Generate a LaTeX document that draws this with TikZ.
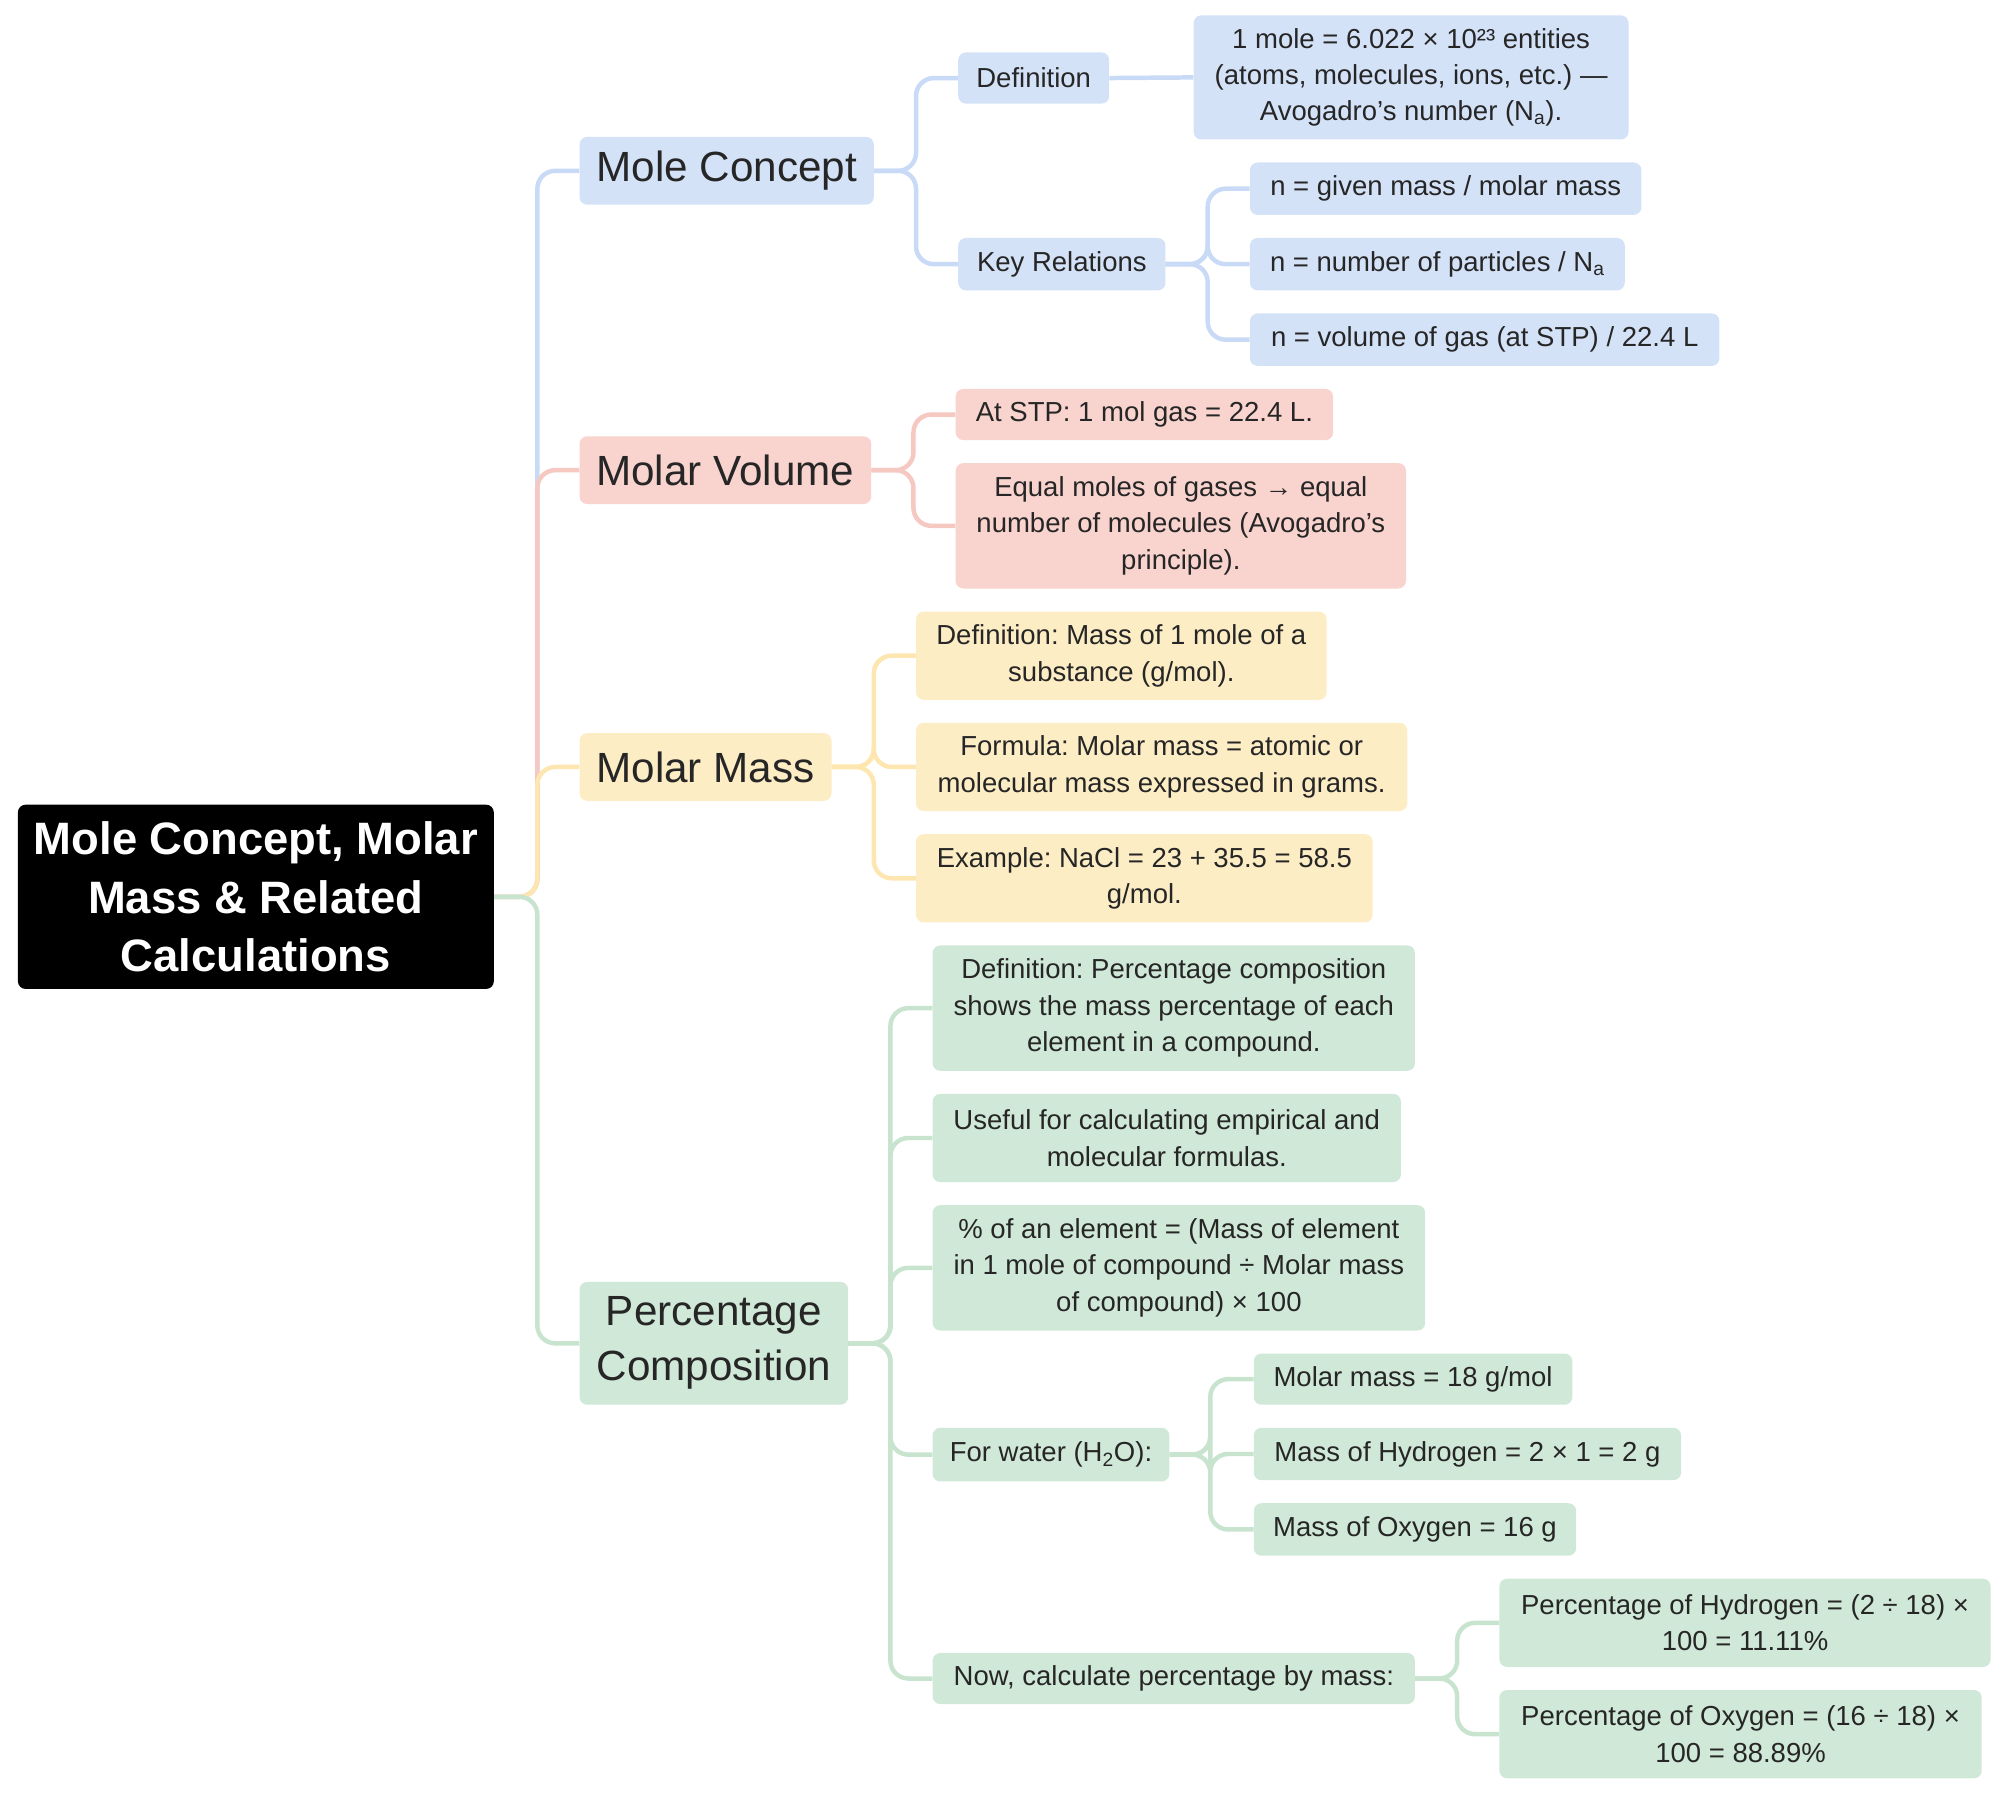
\documentclass[tikz,border=0pt]{standalone}
\usepackage{fontspec}
\setmainfont{Liberation Sans}
\frenchspacing
\hyphenpenalty=10000 \exhyphenpenalty=10000
\begin{document}
\begin{tikzpicture}[x=1pt,y=-1pt,
 box/.style={rounded corners=6pt,inner sep=0pt,align=flush center,font=\fontsize{21.5}{28.5}\selectfont,text=black!85},
 big/.style={font=\fontsize{33}{43}\selectfont},
 bl/.style={fill=cB},rd/.style={fill=cR},yl/.style={fill=cY},gr/.style={fill=cG},
 ln/.style={line width=3.5pt,rounded corners=14pt}]
\definecolor{cB}{HTML}{D4E2F8}\definecolor{cR}{HTML}{F9D3CE}\definecolor{cY}{HTML}{FDEDC5}\definecolor{cG}{HTML}{D0E8D7}
\definecolor{lB}{HTML}{C9DAF6}\definecolor{lR}{HTML}{F5C8C2}\definecolor{lY}{HTML}{FDE6B0}\definecolor{lG}{HTML}{C8E4CF}
\useasboundingbox (0,0) rectangle (1568,1401);
\newcommand\nd[7]{\pgfmathsetmacro\tw{#5-#3-24}\pgfmathsetmacro\cx{(#3+#5)/2}\pgfmathsetmacro\cy{(#4+#6)/2}\pgfmathsetmacro\ww{#5-#3}\pgfmathsetmacro\hh{#6-#4}
\node[box,#2,minimum width=\ww pt,minimum height=\hh pt,text width=\tw pt] (#1) at (\cx,\cy) {#7};}
\newcommand\cn[4]{\draw[ln,#4] (#1.east) -- (#3,0 |- #1.east) -- (#3,0 |- #2.west) -- (#2.west);}
\nd{root}{fill=black,text=white,font=\bfseries\fontsize{35.5}{46}\selectfont}{14}{629}{386}{773}{Mole Concept, Molar Mass \& Related Calculations}
\nd{mc}{bl,big}{453}{107}{683}{160}{Mole Concept}
\nd{d1}{bl}{749}{41}{867}{81}{Definition}
\nd{av}{bl}{933}{12}{1273}{109}{1 mole = 6.022 × 10²³ entities (atoms, molecules, ions, etc.) — Avogadro’s number (N\textsubscript{a}).}
\nd{kr}{bl}{749}{186}{911}{227}{Key Relations}
\nd{k1}{bl}{977}{127}{1283}{168}{n = given mass / molar mass}
\nd{k2}{bl}{977}{186}{1270}{227}{n = number of particles / N\textsubscript{a}}
\nd{k3}{bl}{977}{245}{1344}{286}{n = volume of gas (at STP) / 22.4 L}
\nd{mv}{rd,big}{453}{341}{681}{394}{Molar Volume}
\nd{v1}{rd}{747}{304}{1042}{344}{At STP: 1 mol gas = 22.4 L.}
\nd{v2}{rd}{747}{362}{1099}{460}{Equal moles of gases → equal number of molecules (Avogadro’s principle).}
\nd{mm}{yl,big}{453}{573}{650}{626}{Molar Mass}
\nd{m1}{yl}{716}{478}{1037}{547}{Definition: Mass of 1 mole of a substance (g/mol).}
\nd{m2}{yl}{716}{565}{1100}{634}{Formula: Molar mass = atomic or molecular mass expressed in grams.}
\nd{m3}{yl}{716}{652}{1073}{721}{Example: NaCl = 23 + 35.5 = 58.5 g/mol.}
\nd{pc}{gr,big}{453}{1002}{663}{1098}{Percentage Composition}
\nd{p1}{gr}{729}{739}{1106}{837}{Definition: Percentage composition shows the mass percentage of each element in a compound.}
\nd{p2}{gr}{729}{855}{1095}{924}{Useful for calculating empirical and molecular formulas.}
\nd{p3}{gr}{729}{942}{1114}{1040}{\% of an element = (Mass of element in 1 mole of compound ÷ Molar mass of compound) × 100}
\nd{p4}{gr}{729}{1116}{914}{1158}{For water (H\textsubscript{2}O):}
\nd{w1}{gr}{980}{1058}{1229}{1098}{Molar mass = 18 g/mol}
\nd{w2}{gr}{980}{1116}{1314}{1157}{Mass of Hydrogen = 2 × 1 = 2 g}
\nd{w3}{gr}{980}{1175}{1232}{1216}{Mass of Oxygen = 16 g}
\nd{p5}{gr}{729}{1292}{1106}{1332}{Now, calculate percentage by mass:}
\nd{n1}{gr}{1172}{1234}{1556}{1303}{Percentage of Hydrogen = (2 ÷ 18) × 100 = 11.11\%}
\nd{n2}{gr}{1172}{1321}{1549}{1390}{Percentage of Oxygen = (16 ÷ 18) × 100 = 88.89\%}
\cn{root}{mc}{420}{lB}\cn{root}{mv}{420}{lR}\cn{root}{mm}{420}{lY}\cn{root}{pc}{420}{lG}
\cn{mc}{d1}{716}{lB}\cn{mc}{kr}{716}{lB}\draw[ln,lB] (d1.east)--(av.west);
\cn{kr}{k1}{944}{lB}\cn{kr}{k2}{944}{lB}\cn{kr}{k3}{944}{lB}
\cn{mv}{v1}{714}{lR}\cn{mv}{v2}{714}{lR}
\cn{mm}{m1}{683}{lY}\cn{mm}{m2}{683}{lY}\cn{mm}{m3}{683}{lY}
\cn{pc}{p1}{696}{lG}\cn{pc}{p2}{696}{lG}\cn{pc}{p3}{696}{lG}\cn{pc}{p4}{696}{lG}\cn{pc}{p5}{696}{lG}
\cn{p4}{w1}{946}{lG}\cn{p4}{w2}{946}{lG}\cn{p4}{w3}{946}{lG}
\cn{p5}{n1}{1139}{lG}\cn{p5}{n2}{1139}{lG}
\end{tikzpicture}
\end{document}
